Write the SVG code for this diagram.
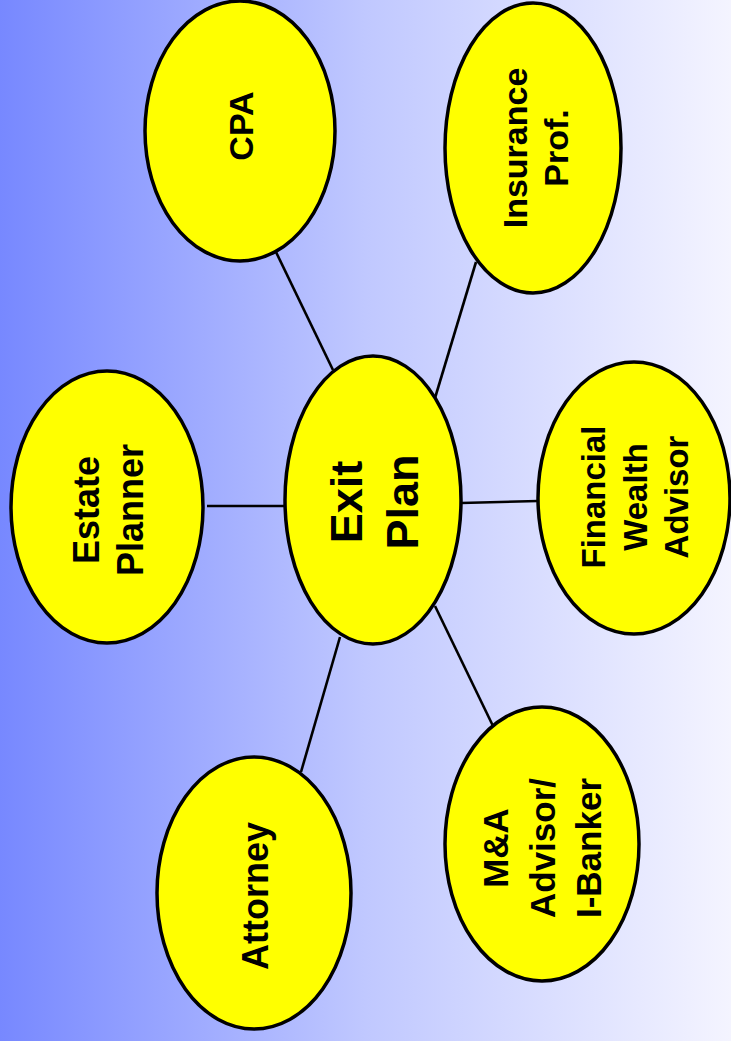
<svg xmlns="http://www.w3.org/2000/svg" width="731" height="1041" viewBox="0 0 731 1041">
<defs>
<linearGradient id="bg" x1="0" y1="0" x2="1" y2="0">
<stop offset="0" stop-color="#7788ff"/>
<stop offset="0.5" stop-color="#c0c8ff"/>
<stop offset="1" stop-color="#f4f4ff"/>
</linearGradient>
<style>
.node ellipse{fill:#ffff00;stroke:#000;stroke-width:3.5}
.node text{font-family:"Liberation Sans",Arial,sans-serif;font-weight:bold;fill:#000;text-anchor:middle}
#connectors line{stroke:#000;stroke-width:2.6}
</style>
</defs>
<rect x="0" y="0" width="731" height="1041" fill="url(#bg)"/>
<g id="connectors">
<line x1="276" y1="252" x2="333" y2="370"/>
<line x1="476" y1="262" x2="435" y2="398"/>
<line x1="207" y1="506" x2="285" y2="506"/>
<line x1="461" y1="503" x2="538" y2="501"/>
<line x1="301" y1="772" x2="340" y2="637"/>
<line x1="435" y1="606" x2="493" y2="726"/>
</g>
<g id="cpa" class="node">
<ellipse cx="240" cy="131" rx="95" ry="130"/>
<text font-size="34" transform="translate(253,126) rotate(-90)"><tspan x="0" y="0">CPA</tspan></text>
</g>
<g id="insurance" class="node">
<ellipse cx="533" cy="148" rx="88" ry="145"/>
<text font-size="34" transform="translate(527,148) rotate(-90)"><tspan x="0" y="0">Insurance</tspan><tspan x="0" dy="41">Prof.</tspan></text>
</g>
<g id="estate" class="node">
<ellipse cx="107" cy="507" rx="96" ry="136"/>
<text font-size="36" transform="translate(99,510) rotate(-90)"><tspan x="0" y="0">Estate</tspan><tspan x="0" dy="44">Planner</tspan></text>
</g>
<g id="exit" class="node">
<ellipse cx="373" cy="500" rx="88" ry="144"/>
<text font-size="45" transform="translate(362,502) rotate(-90)"><tspan x="0" y="0">Exit</tspan><tspan x="0" dy="56">Plan</tspan></text>
</g>
<g id="financial" class="node">
<ellipse cx="634" cy="498" rx="96" ry="136"/>
<text font-size="33" transform="translate(605,497) rotate(-90)"><tspan x="0" y="0">Financial</tspan><tspan x="0" dy="41.5">Wealth</tspan><tspan x="0" dy="41.5">Advisor</tspan></text>
</g>
<g id="attorney" class="node">
<ellipse cx="254" cy="893" rx="97" ry="136"/>
<text font-size="36" transform="translate(268,896) rotate(-90)"><tspan x="0" y="0">Attorney</tspan></text>
</g>
<g id="ma" class="node">
<ellipse cx="542" cy="844" rx="97" ry="137"/>
<text font-size="35" transform="translate(508,848) rotate(-90)"><tspan x="0" y="0">M&amp;A</tspan><tspan x="0" dy="46.5">Advisor/</tspan><tspan x="0" dy="46.5">I-Banker</tspan></text>
</g>
</svg>
